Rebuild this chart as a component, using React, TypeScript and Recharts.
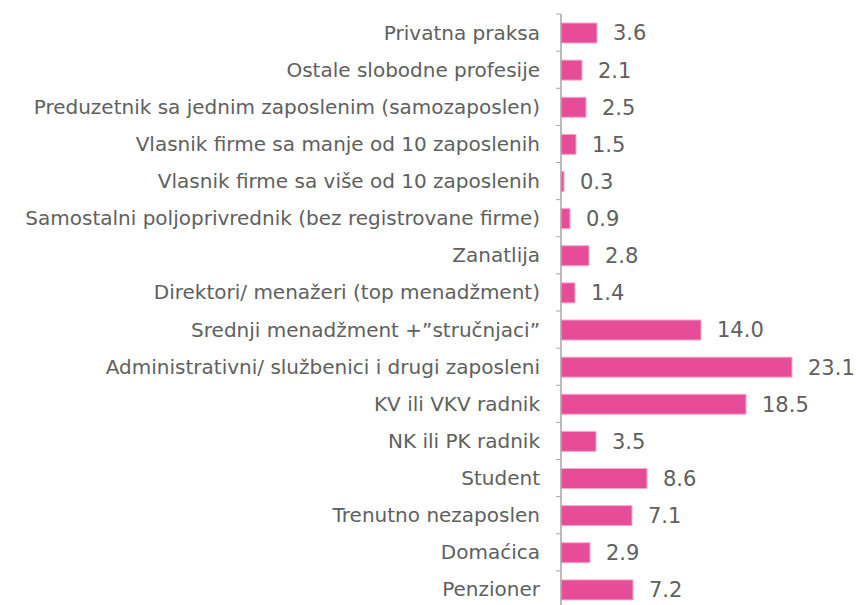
import { Bar, BarChart, LabelList, XAxis, YAxis } from 'recharts';

const categories = [
  'Privatna praksa',
  'Ostale slobodne profesije',
  'Preduzetnik sa jednim zaposlenim (samozaposlen)',
  'Vlasnik firme sa manje od 10 zaposlenih',
  'Vlasnik firme sa više od 10 zaposlenih',
  'Samostalni poljoprivrednik (bez registrovane firme)',
  'Zanatlija',
  'Direktori/ menažeri (top menadžment)',
  'Srednji menadžment +”stručnjaci”',
  'Administrativni/ službenici i drugi zaposleni',
  'KV ili VKV radnik',
  'NK ili PK radnik',
  'Student',
  'Trenutno nezaposlen',
  'Domaćica',
  'Penzioner',
];
const values = [3.6, 2.1, 2.5, 1.5, 0.3, 0.9, 2.8, 1.4, 14.0, 23.1, 18.5, 3.5, 8.6, 7.1, 2.9, 7.2];

const data = categories.map((name, i) => ({ name, value: values[i] }));

const FONT = "'Century Gothic', 'DejaVu Sans', sans-serif";
const AXIS_X = 561;
const TOP = 14;
const PLOT_H = 594;
const BAND = PLOT_H / categories.length;

const CategoryTick = (props: any) => {
  const { y, payload } = props;
  const yTop = y - BAND / 2;
  return (
    <g>
      <line x1={AXIS_X - 5} y1={yTop} x2={AXIS_X} y2={yTop} stroke="#a6a6a6" strokeWidth={1} />
      <text
        x={AXIS_X - 21}
        y={y}
        dy="0.35em"
        textAnchor="end"
        fill="#606060"
        fontSize={20}
        fontFamily={FONT}
      >
        {payload.value}
      </text>
    </g>
  );
};

export default function App() {
  return (
    <div style={{ position: 'absolute', left: 0, top: 0, width: 856, height: 605, overflow: 'hidden', background: '#fff' }}>
      <BarChart
        width={856}
        height={620}
        data={data}
        layout="vertical"
        margin={{ top: TOP, right: 15, bottom: 620 - TOP - PLOT_H, left: 0 }}
        barCategoryGap={0}
      >
        <XAxis type="number" domain={[0, 28]} hide />
        <YAxis
          type="category"
          dataKey="name"
          width={AXIS_X}
          axisLine={{ stroke: '#a6a6a6', strokeWidth: 1.5 }}
          tickLine={false}
          tick={<CategoryTick />}
          interval={0}
        />
        <Bar dataKey="value" fill="#e64c97" stroke="#f4a9cb" strokeWidth={1} barSize={20} isAnimationActive={false}>
          <LabelList
            dataKey="value"
            position="right"
            offset={16}
            fill="#606060"
            fontSize={21}
            fontFamily={FONT}
            formatter={(v: any) => Number(v).toFixed(1)}
          />
        </Bar>
      </BarChart>
    </div>
  );
}
